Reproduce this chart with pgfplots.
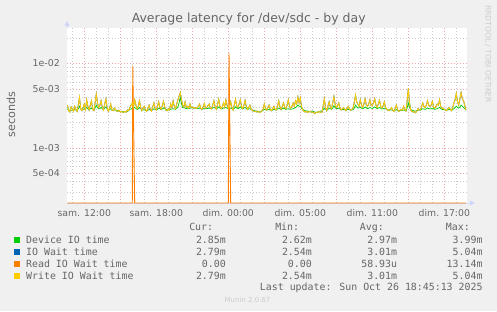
\documentclass[border=0pt]{standalone}
\usepackage{pgfplots}
\pgfplotsset{compat=1.18}
\usepackage{pgfplotstable}
\usepackage{fontspec}
\setmainfont{DejaVu Sans}
\newfontfamily\mono{DejaVu Sans Mono}
\usetikzlibrary{arrows.meta}
\definecolor{bg}{HTML}{F0F0F0}
\definecolor{fontc}{HTML}{666666}
\definecolor{axisc}{HTML}{CFD6F8}
\definecolor{mgrid}{HTML}{F2A8A8}
\definecolor{mingrid}{HTML}{CCCCCC}
\definecolor{cdev}{HTML}{00CC00}
\definecolor{cwait}{HTML}{0066B3}
\definecolor{cread}{HTML}{FF8000}
\definecolor{cwrite}{HTML}{FFCC00}

% time in hours since Saturday 00:00 (elapsed), latency in milliseconds
\pgfplotstableread{
t dev wr
10.6 2.85 3.20
10.7 2.80 2.75
10.8 2.80 2.65
10.9 2.78 3.05
11.0 2.78 2.90
11.1 2.80 2.70
11.2 2.82 3.10
11.3 2.80 2.85
11.4 2.80 2.70
11.5 2.90 3.20
11.6 3.10 3.95
11.7 2.90 2.90
11.8 2.85 2.75
11.9 2.85 3.00
12.0 2.90 3.30
12.1 2.90 2.85
12.2 3.00 3.70
12.3 2.90 3.10
12.4 2.85 2.80
12.5 2.90 3.20
12.6 2.95 3.60
12.7 2.88 2.85
12.8 2.85 2.75
12.9 2.95 3.40
13.0 3.20 4.30
13.1 3.00 3.40
13.2 2.90 3.00
13.3 2.92 3.20
13.4 3.00 3.60
13.5 2.90 3.00
13.6 2.85 2.80
13.7 2.95 3.30
13.8 3.05 3.80
13.9 2.90 3.00
14.0 2.85 2.70
14.1 2.85 2.90
14.2 2.90 3.30
14.3 2.82 2.80
14.4 2.80 2.75
14.5 2.80 2.95
14.6 2.80 2.85
14.7 2.78 2.72
14.8 2.75 2.70
14.9 2.72 2.78
15.0 2.70 2.65
15.1 2.68 2.70
15.2 2.68 2.62
15.3 2.66 2.66
15.4 2.66 2.70
15.5 2.68 2.64
15.6 2.70 2.80
15.7 2.78 2.75
15.8 2.85 3.00
15.9 2.88 3.20
16.0 2.95 3.40
16.1 2.95 3.05
16.2 3.00 3.70
16.3 2.92 3.20
16.4 2.85 2.90
16.5 2.90 3.10
16.6 3.00 3.60
16.7 2.90 3.00
16.8 2.85 2.75
16.9 2.82 2.95
17.0 2.80 3.10
17.1 2.78 2.80
17.2 2.75 2.70
17.3 2.80 2.95
17.4 2.85 3.20
17.5 2.80 2.85
17.6 2.78 2.72
17.7 2.82 3.05
17.8 2.90 3.40
17.9 2.85 2.95
18.0 2.80 2.80
18.1 2.85 3.10
18.2 2.95 3.50
18.3 2.90 3.00
18.4 2.85 2.85
18.5 2.88 3.15
18.6 2.95 3.55
18.7 2.90 3.05
18.8 2.85 2.80
18.9 2.82 2.75
19.0 2.80 2.90
19.1 2.82 2.80
19.2 2.85 3.30
19.3 2.88 3.00
19.4 2.90 3.60
19.5 2.88 3.10
19.6 2.85 2.90
19.7 2.95 3.30
19.8 3.05 3.70
19.9 3.40 4.10
20.0 3.99 4.50
20.1 3.30 3.70
20.2 3.00 3.20
20.3 2.98 3.05
20.4 2.95 3.50
20.5 2.92 3.00
20.6 2.90 3.10
20.7 2.92 2.95
20.8 2.95 3.30
20.9 2.95 3.00
21.0 2.95 3.05
21.1 2.95 2.95
21.2 2.95 3.00
21.3 2.92 2.92
21.4 2.90 2.95
21.5 2.92 3.10
21.6 2.95 3.30
21.7 2.90 2.95
21.8 2.88 2.85
21.9 2.90 3.05
22.0 2.95 3.35
22.1 2.92 2.95
22.2 2.90 3.00
22.3 2.92 3.15
22.4 2.95 3.30
22.5 2.92 2.95
22.6 2.90 2.90
22.7 2.95 3.20
22.8 3.00 3.60
22.9 2.95 3.05
23.0 2.90 2.85
23.1 2.95 3.25
23.2 3.05 3.75
23.3 2.95 3.10
23.4 2.90 2.90
23.5 2.92 3.05
23.6 2.95 3.40
23.7 2.95 3.05
23.8 3.00 3.70
23.9 2.95 3.20
24.0 2.90 2.90
24.1 2.92 3.10
24.2 2.95 3.50
24.3 2.90 3.00
24.4 2.85 2.80
24.5 2.92 3.20
24.6 3.05 3.75
24.7 2.95 3.15
24.8 2.90 3.00
24.9 2.95 3.30
25.0 3.05 3.70
25.1 2.95 3.10
25.2 2.90 2.90
25.3 2.95 3.20
25.4 3.00 3.65
25.5 2.92 3.05
25.6 2.85 2.85
25.7 2.88 3.00
25.8 2.90 3.20
25.9 2.85 2.90
26.0 2.80 2.75
26.1 2.78 2.72
26.2 2.75 2.70
26.3 2.73 2.68
26.4 2.72 2.65
26.5 2.70 2.68
26.6 2.70 2.62
26.7 2.70 2.66
26.8 2.72 2.75
26.9 2.78 2.85
27.0 2.85 3.30
27.1 2.82 2.90
27.2 2.80 2.80
27.3 2.82 3.00
27.4 2.85 3.20
27.5 2.82 2.85
27.6 2.78 2.75
27.7 2.80 2.90
27.8 2.85 3.10
27.9 2.82 2.85
28.0 2.80 2.80
28.1 2.88 3.10
28.2 2.95 3.60
28.3 2.90 3.05
28.4 2.85 2.85
28.5 2.90 3.10
28.6 2.95 3.40
28.7 2.90 3.00
28.8 2.85 2.90
28.9 2.88 3.20
29.0 2.90 3.70
29.1 2.88 3.10
29.2 2.85 2.95
29.3 2.88 3.10
29.4 2.90 3.40
29.5 2.95 3.10
29.6 3.00 3.60
29.7 3.05 3.30
29.8 3.20 4.00
29.9 3.10 3.40
30.0 3.10 3.90
30.1 2.95 3.10
30.2 2.85 2.80
30.3 2.80 2.72
30.4 2.75 2.65
30.5 2.73 2.70
30.6 2.72 2.62
30.7 2.70 2.66
30.8 2.70 2.70
30.9 2.71 2.64
31.0 2.72 2.65
31.1 2.68 2.60
31.2 2.65 2.54
31.3 2.63 2.60
31.4 2.62 2.65
31.5 2.66 2.62
31.6 2.70 2.68
31.7 2.72 2.64
31.8 2.72 2.62
31.9 2.82 3.10
32.0 2.95 3.80
32.1 2.88 3.00
32.2 2.80 2.75
32.3 2.85 3.10
32.4 2.95 3.50
32.5 2.90 3.05
32.6 2.85 2.90
32.7 2.95 3.40
32.8 3.15 4.05
32.9 3.00 3.30
33.0 2.90 3.00
33.1 2.92 3.15
33.2 2.95 3.40
33.3 2.88 2.95
33.4 2.82 2.80
33.5 2.84 2.90
33.6 2.85 3.00
33.7 2.82 2.85
33.8 2.80 2.75
33.9 2.82 2.95
34.0 2.85 3.10
34.1 2.82 2.85
34.2 2.80 2.80
34.3 2.81 2.85
34.4 2.82 2.95
34.5 2.95 3.50
34.6 3.20 4.20
34.7 3.05 3.50
34.8 2.95 3.30
34.9 2.98 3.10
35.0 3.00 3.70
35.1 2.95 3.20
35.2 2.90 3.00
35.3 2.95 3.30
35.4 3.05 3.80
35.5 2.98 3.20
35.6 2.90 3.10
35.7 2.95 3.30
35.8 3.00 3.70
35.9 2.96 3.15
36.0 2.92 3.20
36.1 2.98 3.40
36.2 3.05 3.80
36.3 2.98 3.20
36.4 2.90 3.00
36.5 2.95 3.30
36.6 3.00 3.65
36.7 2.94 3.10
36.8 2.88 2.95
36.9 2.90 3.15
37.0 2.95 3.50
37.1 2.90 3.00
37.2 2.85 2.85
37.3 2.82 2.80
37.4 2.80 2.75
37.5 2.80 2.85
37.6 2.80 3.00
37.7 2.78 2.80
37.8 2.75 2.70
37.9 2.78 2.90
38.0 2.82 3.20
38.1 2.78 2.85
38.2 2.75 2.70
38.3 2.76 2.75
38.4 2.78 2.85
38.5 2.78 2.80
38.6 2.80 3.10
38.7 2.78 2.85
38.8 2.75 2.72
38.9 2.95 3.60
39.0 3.40 5.04
39.1 3.00 3.40
39.2 2.85 2.80
39.3 2.80 2.70
39.4 2.75 2.65
39.5 2.73 2.68
39.6 2.72 2.60
39.7 2.75 2.70
39.8 2.78 2.90
39.9 2.79 2.80
40.0 2.80 2.80
40.1 2.85 3.05
40.2 2.90 3.40
40.3 2.88 3.10
40.4 2.85 3.00
40.5 2.90 3.20
40.6 2.95 3.60
40.7 2.92 3.15
40.8 2.88 3.10
40.9 2.90 3.20
41.0 2.95 3.55
41.1 2.90 3.05
41.2 2.85 2.95
41.3 2.88 3.10
41.4 2.90 3.30
41.5 2.95 3.20
41.6 3.00 3.70
41.7 2.92 3.10
41.8 2.85 2.90
41.9 2.84 2.95
42.0 2.82 2.85
42.1 2.81 2.80
42.2 2.80 2.75
42.3 2.82 2.90
42.4 2.85 3.00
42.5 2.82 2.85
42.6 2.78 2.75
42.7 2.84 3.00
42.8 2.90 3.40
42.9 3.00 3.70
43.0 3.10 4.40
43.1 3.00 3.50
43.2 2.95 3.20
43.3 3.05 3.80
43.4 3.20 4.50
43.5 3.10 3.80
43.6 3.00 3.60
43.7 2.92 3.20
43.8 2.85 2.79
}\lat

\begin{document}
\begin{tikzpicture}[x=1pt,y=1pt]
\fill[bg] (0,0) rectangle (497,311);
% axis lines with arrows (rrdtool style)
\draw[axisc, line width=1pt, -{Triangle[width=5pt,length=5pt]}] (67,108) -- (67,290);
\draw[axisc, line width=1pt, -{Triangle[width=5pt,length=5pt]}] (67,108) -- (475,108);
\begin{axis}[at={(67pt,108pt)}, anchor=south west, scale only axis,
  width=400pt, height=175pt,
  xmin=10.56, xmax=43.89,
  ymode=log, ymin=0.222, ymax=26.2,
  axis background/.style={fill=white},
  axis line style={draw=none},
  major tick length=0pt, minor tick length=0pt,
  xtick={12,15,...,42},
  xticklabels={sam. 12:00,,sam. 18:00,,dim. 00:00,,dim. 05:00,,dim. 11:00,,dim. 17:00},
  minor xtick={11,...,43},
  ytick={0.5,1,5,10},
  yticklabels={5e-04,1e-03,5e-03,1e-02},
  minor ytick={0.3,0.4,0.6,0.7,0.8,0.9,2,3,4,6,7,8,9,20},
  grid=both,
  minor grid style={mingrid, dash pattern=on 0.9pt off 2.1pt, line width=0.5pt},
  major grid style={mgrid, dash pattern=on 0.9pt off 2.1pt, line width=0.5pt},
  xticklabel style={font=\fontsize{9.3}{11}\selectfont, text=fontc, anchor=base, inner sep=0pt, yshift=-13.3pt},
  yticklabel style={font=\fontsize{9.4}{11}\selectfont, text=fontc, anchor=east, inner sep=0pt, xshift=-7pt},
]
\addplot[cdev, line width=0.7pt] table[x=t,y=dev]{\lat};
\addplot[cwait, line width=0.8pt] table[x=t,y=wr]{\lat};
\addplot[cread, line width=0.9pt] coordinates {
(10.6,0.222) (16.0,0.222) (16.04,9.3) (16.2,0.222)
(24.0,0.222) (24.06,13.14) (24.2,0.222) (43.8,0.222)};
\addplot[cwrite, line width=0.9pt] table[x=t,y=wr]{\lat};
\end{axis}
% title, axis label, watermark
\node[inner sep=0pt, anchor=base, text=fontc, font=\fontsize{12.5}{14}\selectfont] at (248.7,288.3) {Average latency for /dev/sdc - by day};
\node[inner sep=0pt, rotate=90, text=fontc, font=\fontsize{11.2}{13}\selectfont] at (11,196.5) {seconds};
\node[inner sep=0pt, rotate=-90, anchor=west, text=black!20, font=\fontsize{7.6}{9}\selectfont] at (488,306) {RRDTOOL / TOBI OETIKER};
% legend
\begin{scope}[every node/.style={inner sep=0pt, text=fontc, font=\mono\fontsize{9.9}{12}\selectfont}]
\node[anchor=base east] at (213.3,80.3) {Cur:};
\node[anchor=base east] at (299.3,80.3) {Min:};
\node[anchor=base east] at (384,80.3) {Avg:};
\node[anchor=base east] at (470,80.3) {Max:};
\fill[cdev] (14,68.3) rectangle (20,73.7);
\fill[cwait] (14,56.3) rectangle (20,61.7);
\fill[cread] (14,44.3) rectangle (20,49.7);
\fill[cwrite] (14,32.3) rectangle (20,37.7);
\node[anchor=base west] at (26,67.7) {Device IO time};
\node[anchor=base west] at (26,55.7) {IO Wait time};
\node[anchor=base west] at (26,43.7) {Read IO Wait time};
\node[anchor=base west] at (26,31.7) {Write IO Wait time};
\node[anchor=base east] at (226,67.7) {2.85m};
\node[anchor=base east] at (312,67.7) {2.62m};
\node[anchor=base east] at (397.3,67.7) {2.97m};
\node[anchor=base east] at (482.7,67.7) {3.99m};
\node[anchor=base east] at (226,55.7) {2.79m};
\node[anchor=base east] at (312,55.7) {2.54m};
\node[anchor=base east] at (397.3,55.7) {3.01m};
\node[anchor=base east] at (482.7,55.7) {5.04m};
\node[anchor=base east] at (226,43.7) {0.00};
\node[anchor=base east] at (312,43.7) {0.00};
\node[anchor=base east] at (397.3,43.7) {58.93u};
\node[anchor=base east] at (482.7,43.7) {13.14m};
\node[anchor=base east] at (226,31.7) {2.79m};
\node[anchor=base east] at (312,31.7) {2.54m};
\node[anchor=base east] at (397.3,31.7) {3.01m};
\node[anchor=base east] at (482.7,31.7) {5.04m};
\node[anchor=base east] at (482.7,20.3) {Last update: Sun Oct 26 18:45:13 2025};
\end{scope}
\node[inner sep=0pt, anchor=base, text=black!20, font=\fontsize{7}{8}\selectfont] at (247.5,9) {Munin 2.0.67};
\end{tikzpicture}
\end{document}
